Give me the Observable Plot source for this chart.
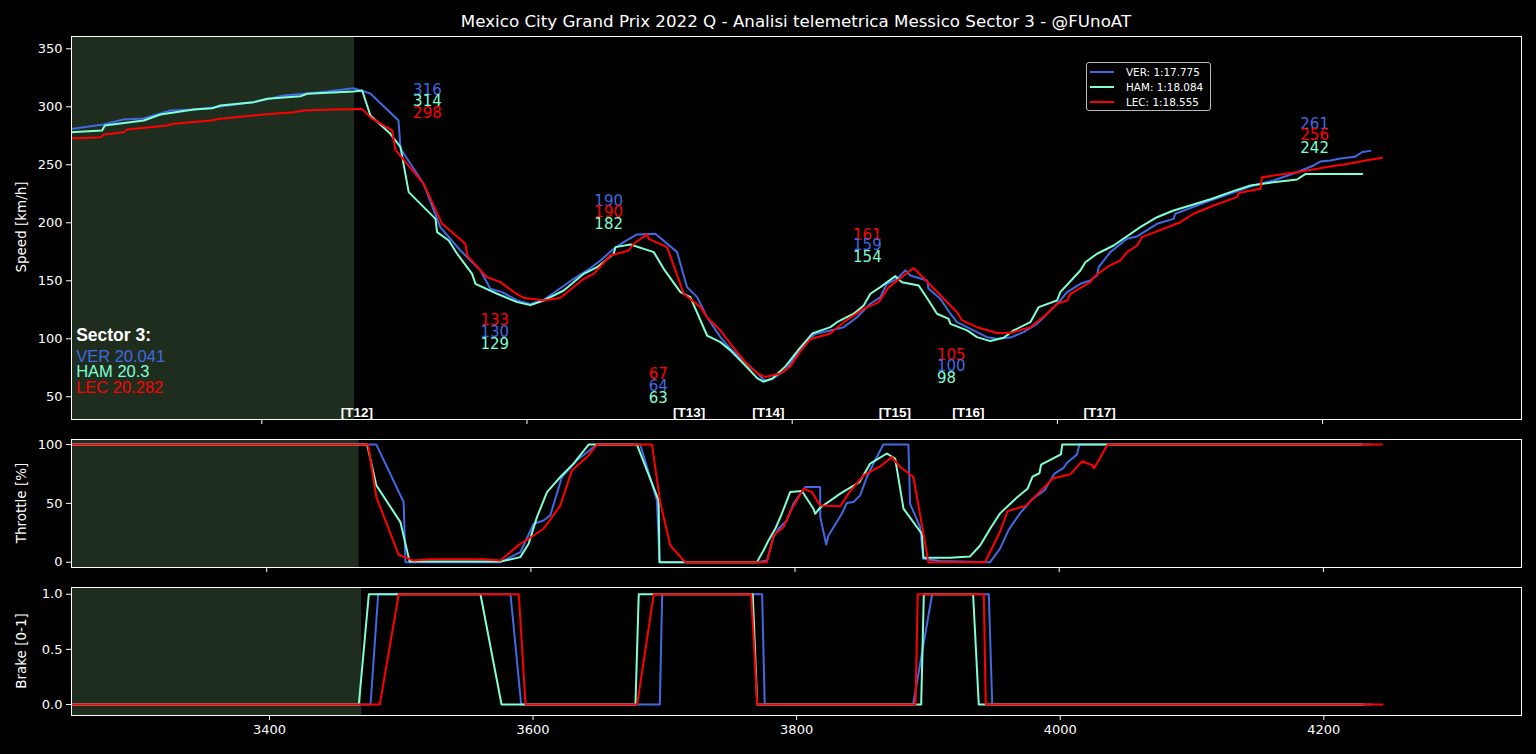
<!DOCTYPE html>
<html>
<head>
<meta charset="utf-8">
<script src="https://cdn.jsdelivr.net/npm/d3@7"></script>
<script src="https://cdn.jsdelivr.net/npm/@observablehq/plot@0.6"></script>
<style>
  html, body { margin: 0; padding: 0; background: #000; }
  #root { position: relative; width: 1536px; height: 754px; background: #000; overflow: hidden; font-family: "DejaVu Sans", sans-serif; color: #fff; }
  .panel { position: absolute; left: 0; }
  #title { position: absolute; left: 0; width: 1592px; top: 11px; text-align: center; font-size: 16.7px; color: #fff; white-space: nowrap; }
  .ylab { position: absolute; font-size: 13.5px; color: #fff; white-space: nowrap; transform: translate(-50%, -50%) rotate(-90deg); }
  #legend { position: absolute; left: 1086px; top: 62px; width: 125px; height: 49px; border: 1px solid #bbb; border-radius: 3px; background: #000; box-sizing: border-box; }
  .lrow { position: absolute; left: 0; height: 14px; font-size: 10.4px; color: #fff; white-space: nowrap; }
  .lrow span.sw { position: absolute; left: 3px; top: 6px; width: 24px; height: 2px; }
  .lrow span.tx { position: absolute; left: 39px; top: 0; line-height: 14px; }
</style>
</head>
<body>
<div id="root">
  <div id="title"></div>
  <div id="legend"></div>
</div>
<script>
// ---------------- DATA ----------------
const chartTitle = "Mexico City Grand Prix 2022 Q - Analisi telemetrica Messico Sector 3 - @FUnoAT";
const drivers = ["VER", "HAM", "LEC"];
const driverColors = ["#4169e1", "#7fffd4", "#ff0000"];
const lapTimes = ["1:17.775", "1:18.084", "1:18.555"];
const sectorTimes = ["20.041", "20.3", "20.282"];
const sectorStart = 3470;

const xTicks = [3400, 3600, 3800, 4000, 4200];
const speedTicks = [50, 100, 150, 200, 250, 300, 350];
const throttleTicks = [0, 50, 100];
const brakeTicks = [0, 0.5, 1];

// speed [km/h] vs distance [m]
const verSpeed = [[3250,280],[3280.6,284.7],[3295.7,289],[3310.8,289.9],[3331.1,296.8],[3348.5,297.7],[3363.6,299.4],[3396.7,304.6],[3416.4,309.7],[3434.4,311.5],[3449.5,313.2],[3469.1,316],[3481.9,311.5],[3503.1,288.2],[3504.6,264.1],[3521.9,233.9],[3534.7,196],[3549.8,176.1],[3564.9,158.9],[3572.4,143.1],[3581.3,140.2],[3592.6,133],[3602.6,130],[3612.6,133.6],[3622.7,141.6],[3635.2,151.7],[3645.3,158.9],[3655.4,167.5],[3665.4,177.6],[3672.9,183.3],[3683,190],[3696.8,190.5],[3713.2,174.7],[3720.7,144.5],[3728.3,135.9],[3735.8,118.6],[3745.9,101.4],[3753.4,91.4],[3760.4,84],[3773.8,70.2],[3779.2,64],[3784.6,65],[3795.4,73.3],[3806.2,91.7],[3816.9,104],[3828.8,107.2],[3838.8,110],[3848.9,118.6],[3859,130.2],[3866.5,135.9],[3871.5,147.4],[3879.1,151.7],[3885.3,159],[3889.1,154.6],[3901.7,150.3],[3902.9,143.1],[3911.7,134.5],[3919.3,121.6],[3924.3,114.3],[3936.8,107.2],[3946.9,101.4],[3954.5,100],[3964.5,101],[3974.5,105.7],[3984.6,112.9],[3994.7,124.4],[4002.2,133],[4007.3,140.2],[4017.3,147.4],[4024.8,150.3],[4029.9,154.6],[4031.1,161.7],[4039.9,174.7],[4052.5,186.2],[4060.1,188.2],[4075.1,199.1],[4087.6,203.4],[4088.9,207.8],[4105.3,214.9],[4115.3,219.2],[4135.4,227.2],[4148,232.2],[4163,236.5],[4180.7,243.6],[4193.2,249.4],[4198.3,252.8],[4205.8,253.7],[4213.3,255.4],[4224.6,257],[4229.9,261],[4236,262]];
const hamSpeed = [[3250,277.6],[3279.6,279.6],[3281.6,283.9],[3311,288.2],[3323.6,293.4],[3348.7,297.7],[3362.6,298.8],[3368.8,301.1],[3394,304],[3404.1,306.9],[3429.2,309.1],[3434.2,311.2],[3469.4,313.2],[3475.7,314],[3481.9,292.5],[3497,276.7],[3504.6,265.2],[3510.8,226.4],[3531,203.4],[3532.2,191.9],[3541,184.7],[3547.3,173.3],[3558.6,156],[3561.1,147.4],[3577.5,138.8],[3592.6,131.6],[3602.6,129],[3612.6,133],[3627.7,141.6],[3642.8,156],[3652.9,161.7],[3665.4,173.3],[3666.7,179],[3678,181.3],[3695.6,174.7],[3703.1,160.3],[3715.7,140.2],[3723.2,135.9],[3735.8,102.8],[3745.9,97.1],[3753.4,90],[3764.7,77],[3773.8,65.8],[3778.3,63],[3785.1,65.8],[3794.9,76.2],[3806.2,92.5],[3815.2,104.5],[3828.8,110],[3833.8,114.3],[3846.4,121.6],[3853.9,128.7],[3859,138.8],[3866.5,144.5],[3877.8,154],[3882.8,148.8],[3895.4,145.9],[3902.9,133],[3909.2,121.6],[3918,117.2],[3919.3,112.9],[3931.9,107.2],[3939.4,101.4],[3949.4,98],[3959.5,100.9],[3967,107.2],[3979.6,114.3],[3985.9,127.3],[3999.7,133],[4002.2,140.2],[4017.3,158.9],[4021.1,166],[4029.9,173.3],[4042.4,180.4],[4062.5,196.2],[4075.1,204.8],[4087.6,210.6],[4100.2,214.9],[4116.6,220.7],[4130.4,226.4],[4145.5,232.2],[4163,235],[4180.7,237.3],[4186.9,242],[4229.9,242]];
const lecSpeed = [[3250,272.4],[3278.4,273.8],[3280.9,276.1],[3295.9,278.1],[3298.5,280.4],[3328.7,283.9],[3333.6,285.3],[3361.3,288.2],[3368.8,289.7],[3399,293.1],[3424.1,295.3],[3431.7,296.8],[3454.3,297.7],[3475.7,298],[3483.2,289.7],[3498.3,279.6],[3500.8,262.9],[3522.1,233.6],[3536,199.1],[3553.6,181.9],[3554.9,171.8],[3564.9,158.9],[3569.9,153.1],[3580,148.8],[3590,140.2],[3597.5,135.3],[3612.6,133],[3625.2,135.3],[3642.8,151.7],[3650.3,156],[3662.9,171.8],[3676.7,176.1],[3680.5,181.9],[3690.6,190],[3691.8,186.2],[3705.7,179],[3718.2,138.8],[3730.8,127.3],[3735.8,118.6],[3745.9,107.2],[3753.4,95.7],[3764.7,79.6],[3773.8,70.1],[3779.8,67],[3791.1,70.1],[3798.6,76.2],[3806.2,89.3],[3813.7,99.6],[3828.8,104.5],[3838.8,114.3],[3853.9,125.8],[3865.2,131.6],[3872.8,144.5],[3891.6,161],[3924.3,122.9],[3928.1,115.8],[3939.4,110],[3954.5,105],[3964.5,105],[3979.6,110],[3992.2,121.6],[3999.7,130.2],[4007.3,133],[4009.8,138.8],[4024.8,148.8],[4027.3,153.1],[4037.4,161.7],[4047.5,167.5],[4052.5,174.7],[4060.1,180.4],[4063.8,187.6],[4092.7,200.5],[4102.7,207.8],[4117.8,214.9],[4135.4,222.1],[4136.6,225.6],[4153,229.3],[4154.3,239.3],[4180.7,243.6],[4205.8,248.5],[4220.9,251.1],[4232.2,253.7],[4245,256]];

// throttle [%]
const verThrottle = [[3250,100],[3483,100],[3503.7,51],[3505,0],[3576.9,0],[3592,8.5],[3602.1,32.7],[3609.6,35.5],[3614.7,39.8],[3623.5,72.4],[3634.9,86.6],[3650,100],[3682.8,100],[3695.4,52.6],[3697.4,0],[3771.1,0],[3778.7,1.4],[3783.7,21.3],[3787.5,28.4],[3793.8,35.5],[3798.8,49.7],[3807.7,63.9],[3819,63.9],[3819.1,38.3],[3823.6,15.1],[3825.3,22.7],[3835.4,41.2],[3839.2,50.3],[3844.2,51.1],[3849.3,56.8],[3854.4,72.4],[3860.6,86.6],[3866.9,100],[3885.8,100],[3887.1,49.7],[3894.7,29.8],[3897.2,2.9],[3910,1],[3947.7,0],[3955.2,11.5],[3961.7,27.5],[3970.7,42.1],[3979.8,53.7],[3988.8,61],[3996.6,75.6],[4003.1,79.9],[4005.7,84.3],[4013.4,91.6],[4015.3,100],[4236,100]];
const hamThrottle = [[3250,100],[3476,100],[3483,65.3],[3501.2,34.1],[3508.2,0.5],[3576.9,0.5],[3592,4.3],[3598.3,15.7],[3604.6,38.3],[3612.2,59.6],[3622.3,72.4],[3632.3,83.8],[3643.7,100],[3680.3,100],[3696.7,52.6],[3697.4,0],[3771.1,0],[3776.1,10],[3779.9,18.5],[3785,28.4],[3790,41.2],[3796.3,59.6],[3805.2,60.5],[3813.9,45.5],[3815.2,41.2],[3819,46.3],[3834.2,58.3],[3848.8,68.1],[3856.9,83.8],[3869.5,92.4],[3875.8,88.1],[3882.1,45.5],[3896,24.2],[3897.2,3.7],[3917.4,3.7],[3932.5,4.9],[3940.1,14.2],[3947.7,28.4],[3955.2,41.5],[3968.2,55.2],[3976,62.4],[3979.8,72.7],[3985,75.6],[3986.3,82.9],[4001.3,91.6],[4002.3,100],[4229.2,100]];
const lecThrottle = [[3250,100],[3476.7,100],[3483,55.4],[3499.9,6.3],[3511.2,1.4],[3523.9,2.5],[3564.2,2.5],[3576.9,1.4],[3592,15.7],[3598.3,19.9],[3609.6,28.4],[3622.3,48.3],[3631.1,78.1],[3642.5,89.4],[3650,100],[3691.7,100],[3697.9,51.1],[3705.5,14.2],[3716.9,0],[3778.7,0],[3783.7,22.7],[3791.2,29.8],[3796.3,42.6],[3806.4,62.5],[3812.7,59.6],[3819,48.3],[3834.2,47.5],[3840.4,58.3],[3851.8,73.9],[3865.7,82.4],[3873.3,89.4],[3879.6,80.9],[3889.6,72.4],[3901,0],[3943.9,0],[3955.2,26.1],[3960.9,43.5],[3974.6,47.9],[3995.3,71.2],[4008.3,74.7],[4017.4,85.8],[4025.1,82.3],[4026.4,79.9],[4036.7,100],[4244.3,100]];

// brake [0-1]
const verBrake = [[3250,0],[3476.7,0],[3482.5,1],[3582.9,1],[3591,0],[3696.2,0],[3698,1],[3773.8,1],[3775.8,0],[3888.4,0],[3902.8,1],[3945.8,1],[3948.4,0],[4236.2,0]];
const hamBrake = [[3250,0],[3467.8,0],[3475.4,1],[3560.1,1],[3576.1,0],[3677.7,0],[3680.2,1],[3766.7,1],[3770.1,0],[3894.5,0],[3896.5,1],[3933.9,1],[3938.2,0],[4229.4,0]];
const lecBrake = [[3250,0],[3483.7,0],[3498.1,1],[3589.2,1],[3594.3,0],[3679,0],[3691.6,1],[3765.5,1],[3770.1,0],[3890.2,0],[3891.9,1],[3942,1],[3943.5,0],[4244.6,0]];

// speed annotations: [text, driver, distance, speed]
const speedLabels = [
  ["316","VER",3514.1,314.1],["314","HAM",3514.1,304.8],["298","LEC",3514.1,294.8],
  ["190","VER",3650.8,218.6],["190","LEC",3650.8,209.1],["182","HAM",3650.8,199.1],
  ["133","LEC",3564.9,115.8],["130","VER",3564.9,105.7],["129","HAM",3564.9,95.7],
  ["67","LEC",3691.8,69.2],["64","VER",3691.8,59.1],["63","HAM",3691.8,49.1],
  ["161","LEC",3845.9,189.7],["159","VER",3845.9,180.4],["154","HAM",3845.9,170.3],
  ["105","LEC",3909.2,85.6],["100","VER",3909.2,76.1],["98","HAM",3909.2,66],
  ["261","VER",4183.2,285.3],["256","LEC",4183.2,275.3],["242","HAM",4183.2,264.7]
];
// corner labels: [text, distance, speed]
const turnLabels = [["[T12]",3471.8,36.5],["[T13]",3722.2,36.5],["[T14]",3782,36.5],["[T15]",3877.5,36.5],["[T16]",3932.8,36.5],["[T17]",4031.8,36.5]];
// sector box text position
const sectorTextX = 3260;
const sectorTextY = [102.8, 84.1, 71.2, 57.8];

// ---------------- BUILD ----------------
const colorOf = d => driverColors[drivers.indexOf(d)];
const toRows = arr => arr.map(([x, y]) => ({x, y}));
const W = 1536, ML = 71, MR = 15;

function lines(series) {
  return series.map((s, i) => Plot.line(toRows(s), {x: "x", y: "y", stroke: driverColors[i], strokeWidth: 2, clip: true}));
}

function panel(o) {
  return Plot.plot({
    width: W, height: o.height, marginTop: o.mt, marginBottom: o.mb, marginLeft: ML, marginRight: MR,
    style: {background: "transparent", color: "#fff", fontFamily: "DejaVu Sans", fontSize: "13px"},
    x: {domain: o.xDomain, label: null},
    y: {domain: o.yDomain, label: null},
    marks: [
      Plot.rect([{x1: 3000, x2: sectorStart, y1: o.yDomain[0], y2: o.yDomain[1]}], {x1: "x1", x2: "x2", y1: "y1", y2: "y2", fill: "#1f2d1f", clip: true}),
      ...lines(o.series),
      ...(o.extra || []),
      Plot.frame({stroke: "#fff", strokeWidth: 1}),
      Plot.axisX({ticks: xTicks, tickSize: 5, tickPadding: 4, label: null, color: "#fff", fontSize: 13,
        tickFormat: o.xLabels ? (d => String(d)) : (() => "")}),
      Plot.axisY({ticks: o.yTicks, tickSize: 5, tickPadding: 4, label: null, color: "#fff", fontSize: 13, tickFormat: o.yFmt})
    ]
  });
}

const speedExtra = [
  Plot.text(speedLabels, {x: d => d[2], y: d => d[3], text: d => d[0], fill: d => colorOf(d[1]), textAnchor: "start", fontSize: 15, fontFamily: "DejaVu Sans"}),
  Plot.text(turnLabels, {x: d => d[1], y: d => d[2], text: d => d[0], fill: "#fff", textAnchor: "middle", fontSize: 13.5, fontWeight: "bold", fontFamily: "Liberation Sans"}),
  Plot.text(["Sector 3:"], {x: sectorTextX, y: sectorTextY[0], text: d => d, fill: "#fff", textAnchor: "start", fontSize: 17.5, fontWeight: "bold", fontFamily: "Liberation Sans"}),
  Plot.text(drivers.map((d, i) => ({t: d + " " + sectorTimes[i], c: driverColors[i], y: sectorTextY[i + 1]})),
    {x: sectorTextX, y: "y", text: "t", fill: d => d.c, textAnchor: "start", fontSize: 16.5, fontFamily: "Liberation Sans"})
];

const root = document.getElementById("root");
function place(svg, top) { svg.classList.add("panel"); svg.style.top = top + "px"; root.appendChild(svg); }

place(panel({height: 440, mt: 36, mb: 21, xDomain: [3256.5, 4350], yDomain: [30.4, 360.6], yTicks: speedTicks, yFmt: d => String(d),
  series: [verSpeed, hamSpeed, lecSpeed], extra: speedExtra, xLabels: false}), 0);
place(panel({height: 160, mt: 19, mb: 13, xDomain: [3252.2, 4350], yDomain: [-4.5, 104.3], yTicks: throttleTicks, yFmt: d => String(d),
  series: [verThrottle, hamThrottle, lecThrottle], xLabels: false}), 420);
place(panel({height: 184, mt: 17, mb: 39, xDomain: [3249.8, 4350], yDomain: [-0.1, 1.061], yTicks: brakeTicks, yFmt: d3.format(".1f"),
  series: [verBrake, hamBrake, lecBrake], xLabels: true}), 570);

document.getElementById("title").textContent = chartTitle;

[["Speed [km/h]", 227], ["Throttle [%]", 503], ["Brake [0-1]", 651]].forEach(([t, y]) => {
  const d = document.createElement("div");
  d.className = "ylab"; d.textContent = t; d.style.left = "21px"; d.style.top = y + "px";
  root.appendChild(d);
});

const legend = document.getElementById("legend");
drivers.forEach((d, i) => {
  const r = document.createElement("div");
  r.className = "lrow"; r.style.top = (2 + i * 15) + "px";
  r.innerHTML = `<span class="sw" style="background:${driverColors[i]}"></span><span class="tx">${d}: ${lapTimes[i]}</span>`;
  legend.appendChild(r);
});
</script>
</body>
</html>
